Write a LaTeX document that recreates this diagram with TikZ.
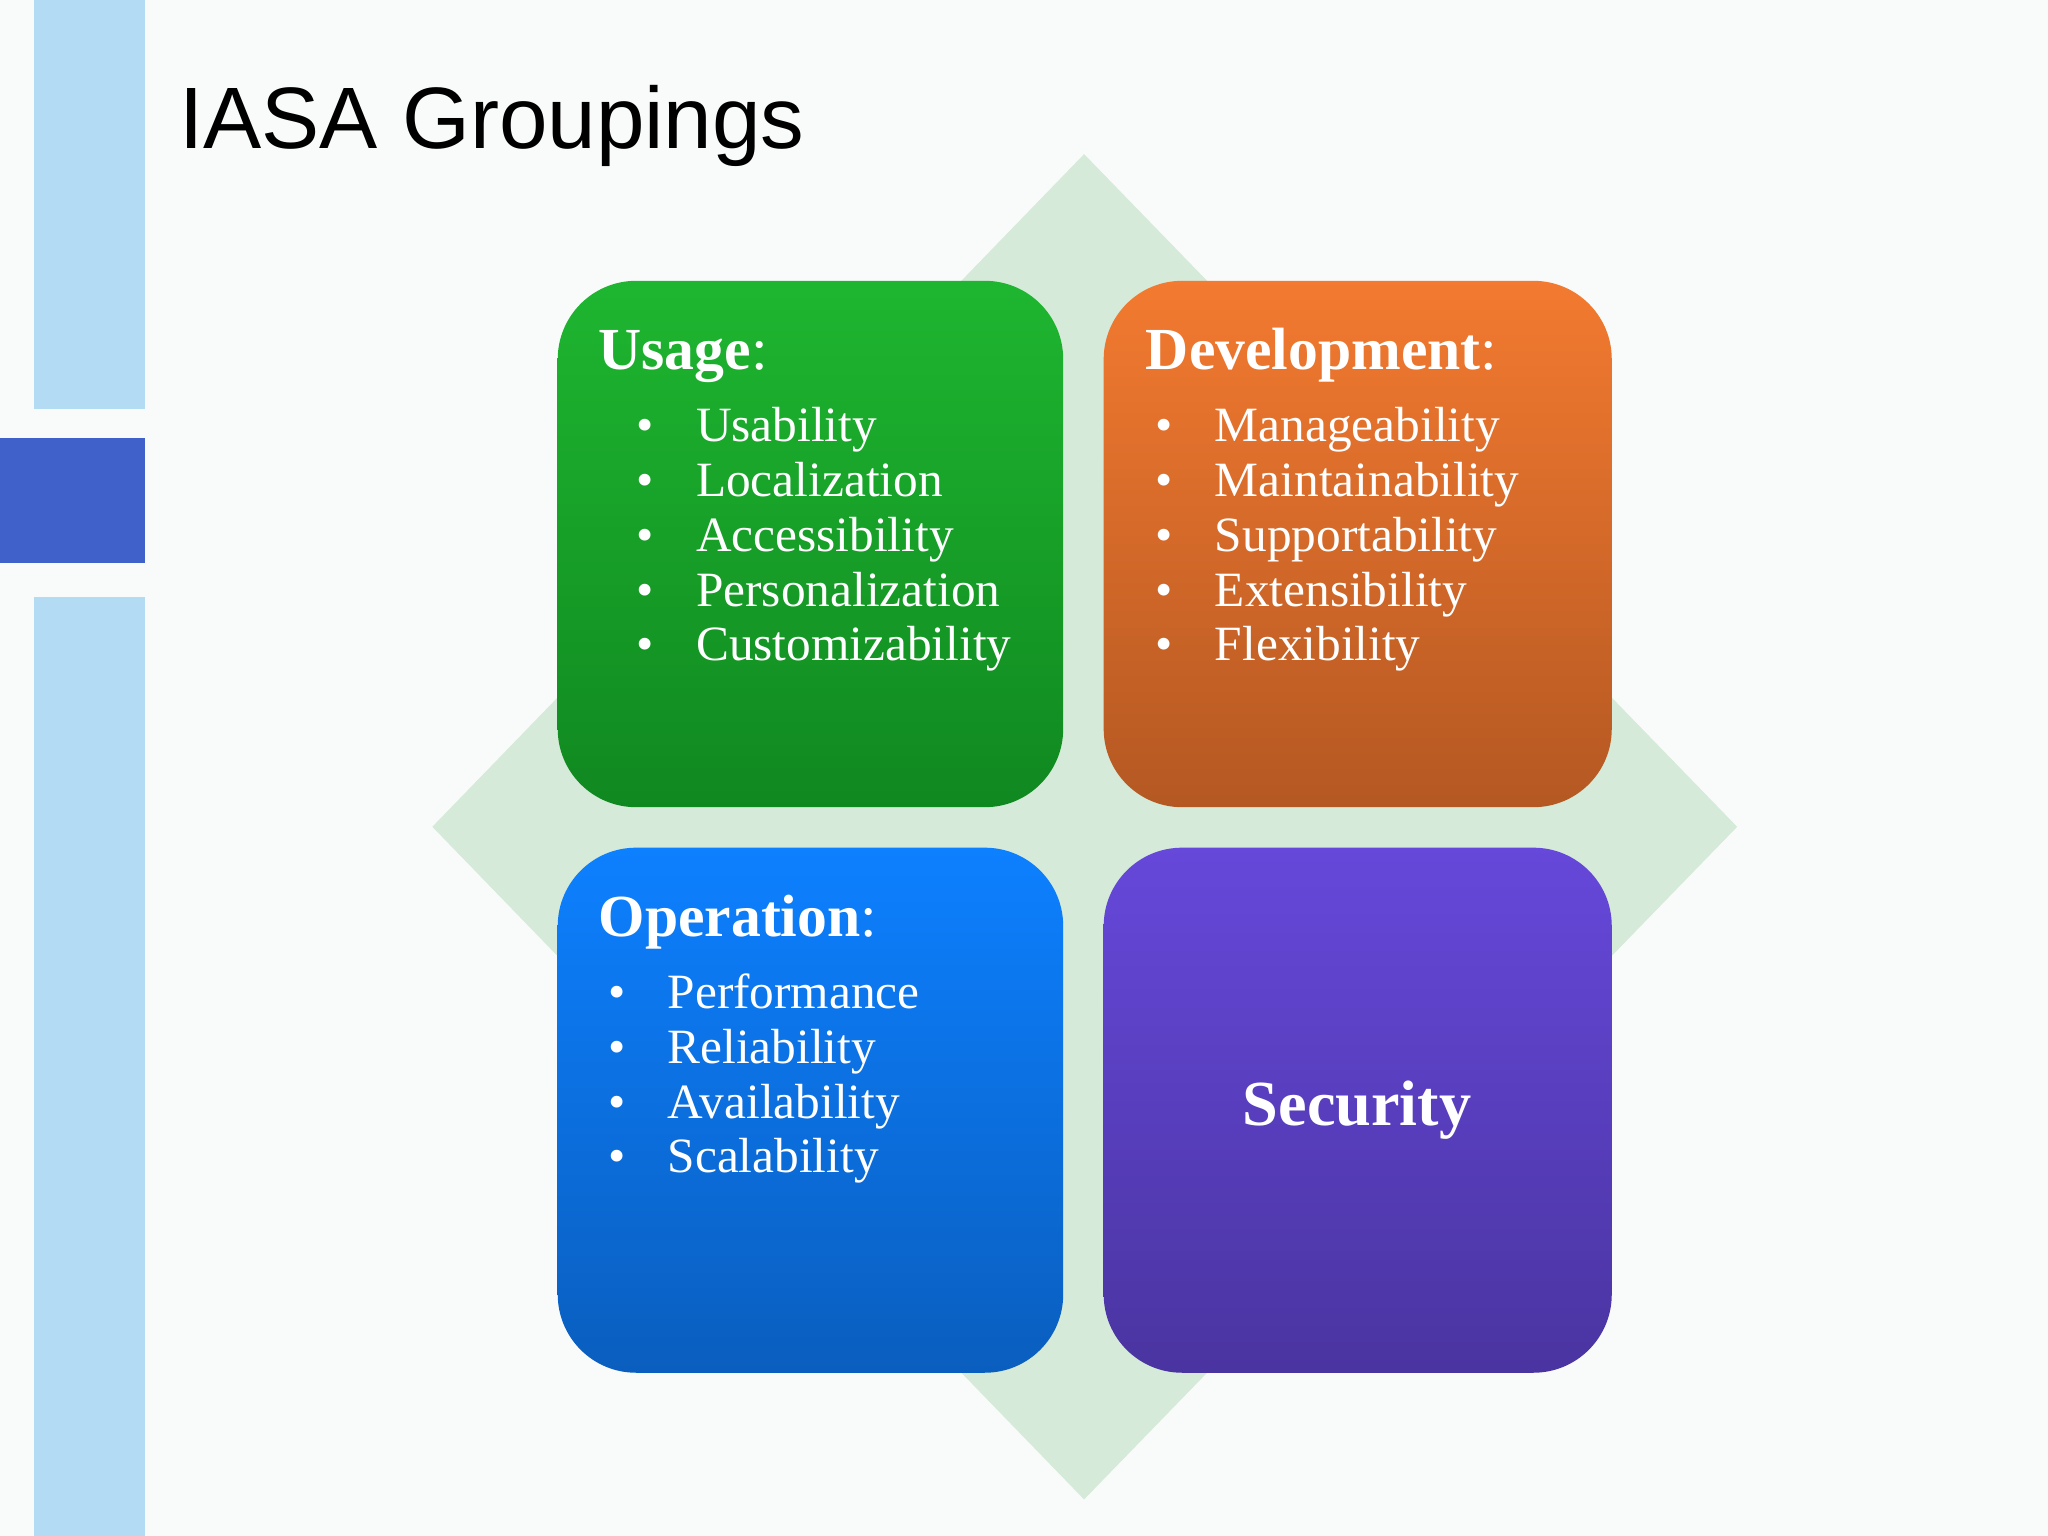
\documentclass[tikz,border=0pt]{standalone}
\usepackage{fontspec}
\setmainfont{Liberation Serif}
\newfontfamily\titlefont{Liberation Sans}
\begin{document}
\begin{tikzpicture}[x=0.02cm,y=-0.02cm,
  box/.style={rounded corners=1.2cm},
  head/.style={anchor=base west,text=white,font=\fontsize{26}{30}\selectfont,inner sep=0},
  item/.style={anchor=base west,text=white,font=\fontsize{21.5}{25}\selectfont,inner sep=0}]
\definecolor{bg}{HTML}{F9FBFA}
\definecolor{lb}{HTML}{B3DCF4}
\definecolor{db}{HTML}{4061C9}
\definecolor{dia}{HTML}{D5EAD8}
\fill[bg] (0,0) rectangle (1568,1176);
\fill[lb] (26,0) rectangle (111,313);
\fill[db] (0,335) rectangle (111,431);
\fill[lb] (26,457) rectangle (111,1176);
\fill[dia] (830,118) -- (1330,633) -- (830,1148) -- (331,633) -- cycle;
\node[anchor=base west,inner sep=0,font=\titlefont\fontsize{38}{44}\selectfont] (title) at (137,114) {IASA Groupings};
\shade[box,top color={rgb,255:red,30;green,182;blue,48},bottom color={rgb,255:red,16;green,136;blue,32}] (427,215) rectangle (814,618);
\shade[box,top color={rgb,255:red,243;green,122;blue,48},bottom color={rgb,255:red,180;green,88;blue,34}] (845,215) rectangle (1234,618);
\shade[box,top color={rgb,255:red,13;green,128;blue,255},bottom color={rgb,255:red,10;green,94;blue,190}] (427,649) rectangle (814,1051);
\shade[box,top color={rgb,255:red,102;green,72;blue,218},bottom color={rgb,255:red,74;green,52;blue,160}] (845,649) rectangle (1234,1051);
\node[head] (uh) at (458,283) {\textbf{Usage}:};
\node[head] (dh) at (877,283) {\textbf{Development}:};
\node[head] (oh) at (458,717) {\textbf{Operation}:};
\node[text=white,font=\bfseries\fontsize{28}{32}\selectfont] (sec) at (1039,850) {Security};
\foreach \t [count=\i] in {Usability,Localization,Accessibility,Personalization,Customizability}{
  \node[item] (u\i) at (458,338+42*\i-42) {\makebox[31\pgflinewidth][l]{}\llap{}\makebox[0pt][l]{\hspace{0.2em}•}\hspace{1.4em}\t};}
\foreach \t [count=\i] in {Manageability,Maintainability,Supportability,Extensibility,Flexibility}{
  \node[item] (d\i) at (877,338+42*\i-42) {\makebox[0pt][l]{\hspace{0.2em}•}\hspace{1.4em}\t};}
\foreach \t [count=\i] in {Performance,Reliability,Availability,Scalability}{
  \node[item] (o\i) at (458,772+42*\i-42) {\makebox[0pt][l]{\hspace{0.2em}•}\hspace{1.4em}\t};}
\end{tikzpicture}
\end{document}
